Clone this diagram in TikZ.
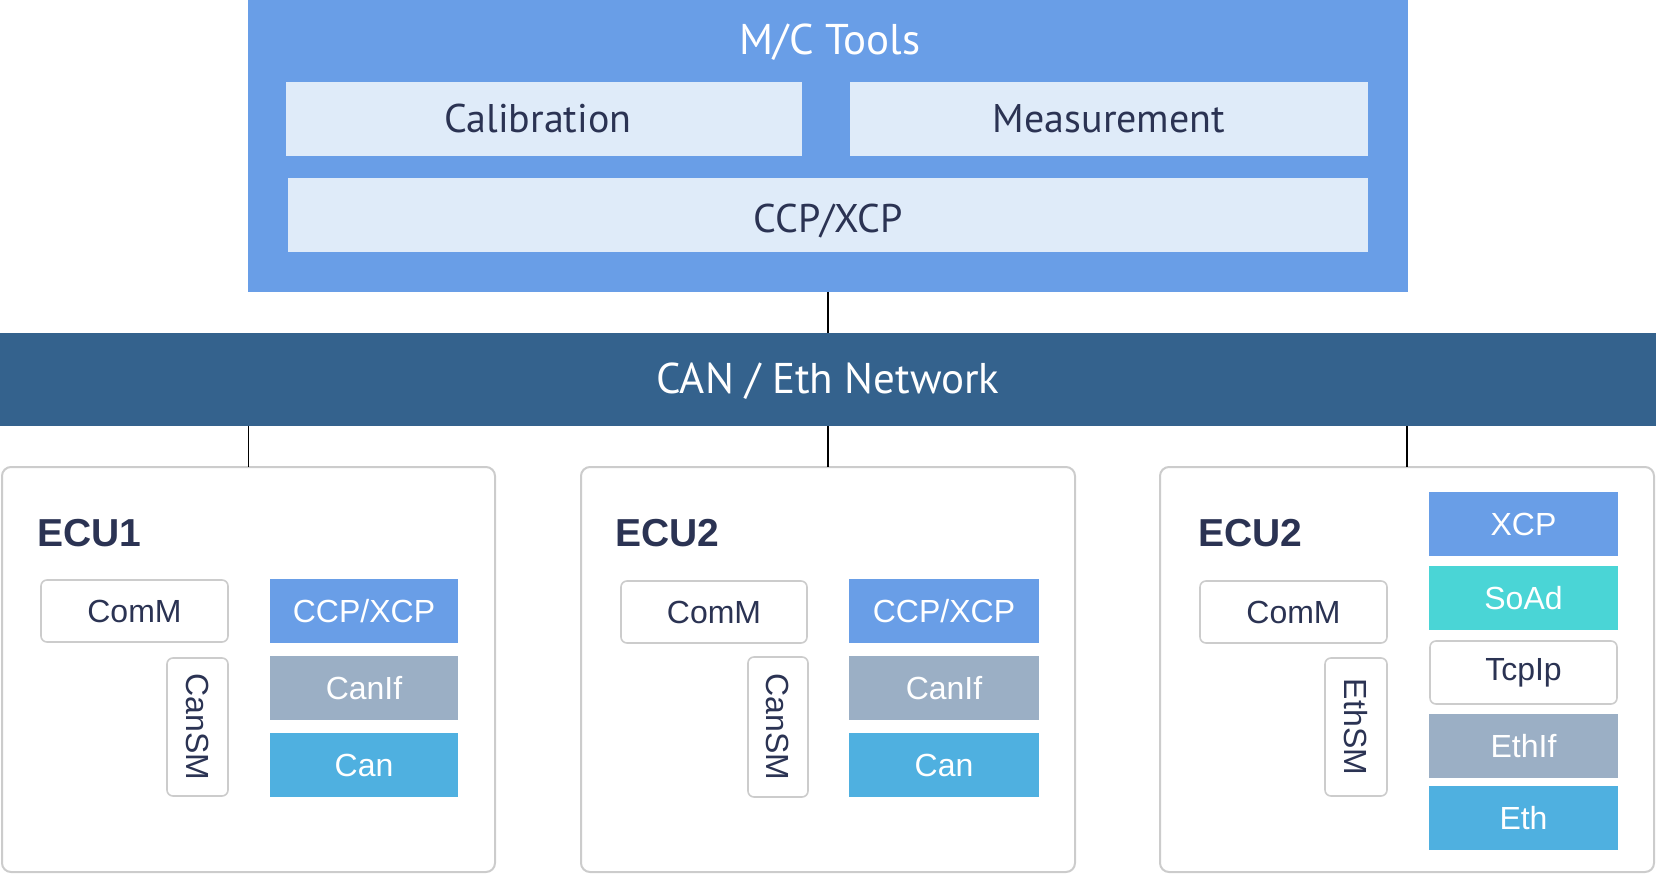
\documentclass[tikz,border=0pt]{standalone}
\usepackage{fontspec}
\setmainfont{Liberation Sans}
\newfontfamily\headfont{PT Sans}
\definecolor{mcblue}{HTML}{699EE7}
\definecolor{lightbox}{HTML}{DFEBF9}
\definecolor{netblue}{HTML}{34628D}
\definecolor{navy}{HTML}{2B3353}
\definecolor{ifgray}{HTML}{9BAFC5}
\definecolor{canblue}{HTML}{4FB0E0}
\definecolor{soad}{HTML}{4AD5D6}
\definecolor{bordergray}{HTML}{CCCCCC}
\newcommand\bx[7]{\node[#1, anchor=north west, minimum width={#5pt-#3pt}, minimum height={#6pt-#4pt}] (#2) at (#3,#4) {#7};}
\tikzset{
  base/.style={inner sep=0pt, outer sep=0pt},
  lightbx/.style={base, fill=lightbox, text=navy, text height=28pt, text depth=0pt, font=\headfont\fontsize{40}{44}\selectfont},
  ecubx/.style={base, draw=bordergray, line width=2pt, rounded corners=9pt, fill=white},
  softbx/.style={base, draw=bordergray, line width=1.6pt, rounded corners=6pt, fill=white, text=navy, font=\fontsize{32}{36}\selectfont},
  solidbx/.style={base, text=white, font=\fontsize{32}{36}\selectfont},
  ecutitle/.style={base, anchor=base west, text=navy, font=\bfseries\fontsize{39}{44}\selectfont},
  link/.style={line width=1.5pt, draw=black}
}
\begin{document}
\begin{tikzpicture}[x=1pt, y=-1pt]
\useasboundingbox (0,0) rectangle (1656,874);
% M/C tools
\bx{base, fill=mcblue}{mc}{248}{0}{1408}{292}{}
\node[base, anchor=base, text=white, font=\headfont\fontsize{43}{48}\selectfont] (mctitle) at (830,55) {M/C Tools};
\bx{lightbx}{cal}{286}{82}{802}{156}{Calibration\hspace*{12pt}}
\bx{lightbx}{meas}{850}{82}{1368}{156}{Measurement}
\bx{lightbx}{ccptop}{288}{178}{1368}{252}{}
\node[base, anchor=base, text=navy, font=\headfont\fontsize{40}{44}\selectfont] (ccptoptext) at (828,233) {CCP/XCP};
% network
\bx{base, fill=netblue}{net}{0}{333}{1656}{426}{}
\node[base, anchor=base, text=white, font=\headfont\fontsize{43}{48}\selectfont] (nettitle) at (828,393) {CAN / Eth Network};
% ECU frames
\bx{ecubx}{ecua}{2}{467}{495}{872}{}
\bx{ecubx}{ecub}{581}{467}{1075}{872}{}
\bx{ecubx}{ecuc}{1160}{467}{1654}{872}{}
% connectors
\draw[link] (mc.south) -- (net.north -| mc.south);
\draw[link] (net.south -| ecua.north) -- (ecua.north);
\draw[link] (net.south -| ecub.north) -- (ecub.north);
\draw[link] (net.south -| ecuc.north) -- (ecuc.north);
% ECU1
\node[ecutitle] (ecuatitle) at (37,546) {ECU1};
\bx{softbx}{comma}{41}{580}{228}{642}{ComM}
\node[softbx, rotate=-90, minimum width=138pt, minimum height=61pt] (cansma) at (197.5,727) {CanSM};
\bx{solidbx, fill=mcblue}{ccpa}{270}{579}{458}{643}{CCP/XCP}
\bx{solidbx, fill=ifgray}{canifa}{270}{656}{458}{720}{CanIf}
\bx{solidbx, fill=canblue}{cana}{270}{733}{458}{797}{Can}
% ECU2
\node[ecutitle] (ecubtitle) at (615,546) {ECU2};
\bx{softbx}{commb}{621}{581}{807}{643}{ComM}
\node[softbx, rotate=-90, minimum width=140pt, minimum height=60pt] (cansmb) at (778,727) {CanSM};
\bx{solidbx, fill=mcblue}{ccpb}{849}{579}{1039}{643}{CCP/XCP}
\bx{solidbx, fill=ifgray}{canifb}{849}{656}{1039}{720}{CanIf}
\bx{solidbx, fill=canblue}{canb}{849}{733}{1039}{797}{Can}
% ECU3
\node[ecutitle] (ecuctitle) at (1198,546) {ECU2};
\bx{softbx}{commc}{1200}{581}{1387}{643}{ComM}
\node[softbx, rotate=-90, minimum width=138pt, minimum height=62pt] (ethsm) at (1356,727) {EthSM};
\bx{solidbx, fill=mcblue}{xcpc}{1429}{492}{1618}{556}{XCP}
\bx{solidbx, fill=soad}{soadc}{1429}{566}{1618}{630}{SoAd}
\bx{softbx}{tcpipc}{1430}{641}{1617}{704}{TcpIp}
\bx{solidbx, fill=ifgray}{ethifc}{1429}{714}{1618}{778}{EthIf}
\bx{solidbx, fill=canblue}{ethc}{1429}{786}{1618}{850}{Eth}
\end{tikzpicture}
\end{document}
